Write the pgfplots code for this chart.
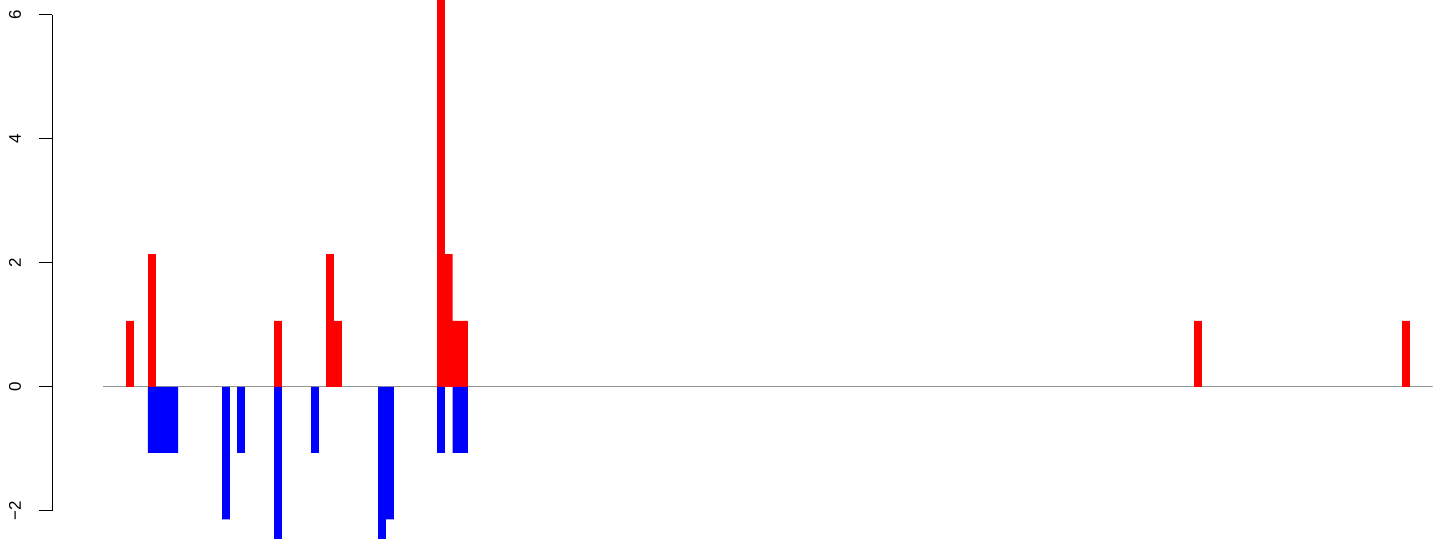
\documentclass[border=0pt]{standalone}
\usepackage{pgfplots}
\pgfplotsset{compat=1.18}
\usepackage{fontspec}
\setmainfont{Liberation Sans}
\begin{document}
\begin{tikzpicture}
\begin{axis}[
  at={(0,0)}, anchor=south west,
  scale only axis, width=1380.7bp, height=539bp,
  xmin=52, xmax=1432.7, ymin=-2.455, ymax=6.24,
  hide x axis,
  axis y line*=left,
  y axis line style={draw=none},
  ytick={-2,0,2,4,6},
  yticklabels={−2,0,2,4,6},
  tick align=outside,
  major tick length=12.5bp,
  every tick/.style={black, line width=0.9bp},
  yticklabel style={xshift=-18.5bp, rotate=90, anchor=base, inner sep=0pt, font=\fontsize{17}{20}\selectfont},
  /pgf/number format/assume math mode=true,
  clip=true,
]
\draw[black, line width=0.9bp] (axis cs:52,-2) -- (axis cs:52,6);
\addplot[gray!85, line width=0.9bp] coordinates {(103.3,0) (1432.7,0)};
\addplot[ybar, bar width=7.7, bar shift=0pt, fill=red, draw=none] coordinates {
 (130,1.065) (152,2.14) (278,1.065) (330,2.14) (338,1.065) (441,6.42) (448.7,2.14) (456.4,1.065) (464.1,1.065) (1198,1.065) (1406,1.065)};
\addplot[ybar, bar width=7.7, bar shift=0pt, fill=blue, draw=none] coordinates {
 (151.8,-1.065) (159.3,-1.065) (166.8,-1.065) (174.3,-1.065) (226,-2.14) (241,-1.065) (278,-3.21) (315,-1.065) (382,-3.21) (390,-2.14) (441,-1.065) (456.4,-1.065) (464.1,-1.065)};
\end{axis}
\path[use as bounding box] (-52bp,0) rectangle (1392bp,539bp);
\end{tikzpicture}
\end{document}
